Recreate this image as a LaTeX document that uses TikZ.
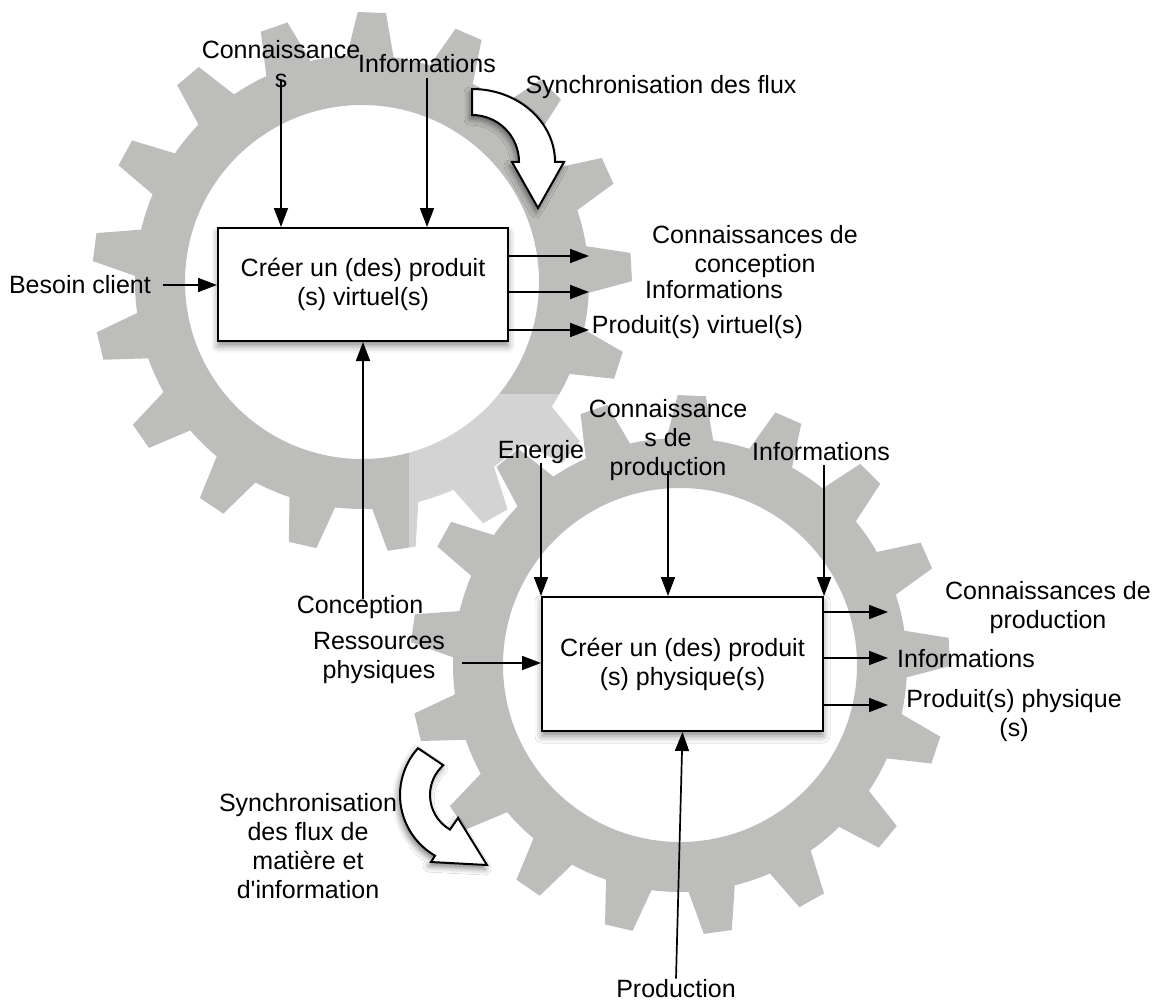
\documentclass[tikz,border=0pt]{standalone}
\usepackage{fontspec}
\setmainfont{Liberation Sans}
\usepackage{tikz}
\usetikzlibrary{arrows.meta,shadows.blur}
\definecolor{geargray}{RGB}{189,190,188}

\begin{document}
\begin{tikzpicture}[x=1pt,y=-1pt]
\tikzstyle{every node}+=[inner sep=0pt, font=\fontsize{25}{29}\selectfont, align=center]
\tikzstyle{gearbody}=[fill=geargray, even odd rule]
\tikzstyle{process}=[draw=black, line width=2pt, fill=white, blur shadow={shadow xshift=0pt, shadow yshift=-5pt, shadow blur radius=7pt, shadow opacity=45}]
\tikzstyle{flow}=[black, line width=1.7pt, -{Triangle[length=19pt,width=14pt]}]
\tikzstyle{turn}=[draw=black, fill=white, line width=2pt, blur shadow={shadow xshift=-2pt, shadow yshift=-4pt, shadow blur radius=6pt, shadow opacity=50}]
\useasboundingbox (0,0) rectangle (1155,1003);
\begin{scope}[shift={(362,282)}]
\fill [gearbody] (-93.8:227)
  \foreach \k [evaluate=\k as \a using -87.9+21.18*\k] in {0,...,16} {
    -- ({\a-3}:270) -- ({\a+3}:270) -- ({\a+5.9}:227)
    arc [start angle={\a+5.9}, end angle={\a+15.28}, radius=227]
  } -- cycle (0,0) circle [radius=177];
\end{scope}
\fill [white, opacity=0.33] (409,394) rectangle (951,936);
\begin{scope}[shift={(680,665)}]
\fill [gearbody] (-93.4:227)
  \foreach \k [evaluate=\k as \a using -87.5+21.18*\k] in {0,...,16} {
    -- ({\a-3}:270) -- ({\a+3}:270) -- ({\a+5.9}:227)
    arc [start angle={\a+5.9}, end angle={\a+15.28}, radius=227]
  } -- cycle (0,0) circle [radius=177];
\end{scope}
\filldraw [turn] (472,89) arc [start angle=-90, end angle=0, x radius=83, y radius=73]
  -- (564,162) -- (538,208) -- (512,162) -- (519,162)
  arc [start angle=0, end angle=-90, radius=47] -- cycle;
\filldraw [turn] (418,748.2) arc [start angle=222, end angle=120, radius=70]
  -- (431,862) -- (487,865) -- (458,818) -- (450,829.6)
  arc [start angle=120, end angle=228, radius=40] -- cycle;
\node [process, minimum width=290pt, minimum height=113pt] (v1) at (363,284.5) {Créer un (des) produit\\(s) virtuel(s)};
\node [process, minimum width=281pt, minimum height=134pt] (p2) at (682.5,664) {Créer un (des) produit\\(s) physique(s)};
\node [anchor=base east] (besoin) at (151,293) {Besoin client};
\node (conn1) at (281,64) {Connaissance\\s};
\node [anchor=base] (info1) at (427,73) {Informations};
\node [anchor=base] (sync1) at (661,94) {Synchronisation des flux};
\node (cc1) at (755,252) {Connaissances de\\conception};
\node [anchor=base] (info1r) at (714,298) {Informations};
\node [anchor=base] (pv1) at (697.5,333) {Produit(s) virtuel(s)};
\node [anchor=base] (concep) at (360,613) {Conception};
\node [anchor=base] (energie) at (541,458) {Energie};
\node (conn2) at (668,440) {Connaissance\\s de\\production};
\node [anchor=base] (info2) at (821,460) {Informations};
\node (ress) at (379,658) {Ressources\\physiques};
\node (cp2) at (1048,608) {Connaissances de\\production};
\node [anchor=base] (info2r) at (966,667) {Informations};
\node (pp2) at (1014,716) {Produit(s) physique\\(s)};
\node [anchor=base] (prod) at (676,997) {Production};
\node (sync2) at (308,846) {Synchronisation\\des flux de\\matière et\\d\textquotesingle information};
\coordinate (b0) at (163,285);
\coordinate (o1) at (589,256);
\coordinate (o2) at (589,292);
\coordinate (o3) at (589,330);
\coordinate (r0) at (462,663);
\coordinate (q1) at (888,612);
\coordinate (q2) at (888,658);
\coordinate (q3) at (888,705);
\draw [flow] (b0) -- (b0 -| v1.west);
\draw [flow, shorten <=-8pt] (conn1.south) -- (conn1.south |- v1.north);
\draw [flow, shorten <=5pt] (info1.south) -- (info1.south |- v1.north);
\draw [flow, shorten <=-4pt] (v1.south |- concep.north) -- (v1.south);
\draw [flow] (v1.east |- o1) -- (o1);
\draw [flow] (v1.east |- o2) -- (o2);
\draw [flow] (v1.east |- o3) -- (o3);
\draw [flow] (energie.south -| p2.north west) -- (p2.north west);
\draw [flow, shorten <=-10pt] (conn2.south) -- (conn2.south |- p2.north);
\draw [flow, shorten <=5pt] (info2.south -| p2.north east) -- (p2.north east);
\draw [flow] (r0) -- (r0 -| p2.west);
\draw [flow] (prod.north) -- (p2.south);
\draw [flow] (p2.east |- q1) -- (q1);
\draw [flow] (p2.east |- q2) -- (q2);
\draw [flow] (p2.east |- q3) -- (q3);
\end{tikzpicture}
\end{document}
